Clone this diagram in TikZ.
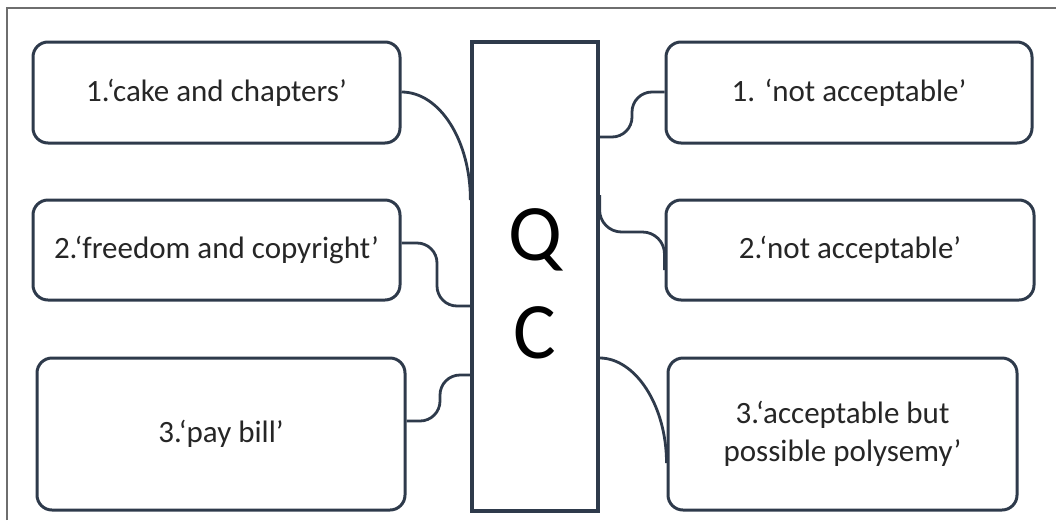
\documentclass[tikz,border=0pt]{standalone}
\usepackage{fontspec}
\setmainfont{Carlito}
\usepackage{tikz}
\usetikzlibrary{calc}
\usepackage{xcolor}
\definecolor{Slate}{HTML}{2E3A4B}
\definecolor{Ink}{HTML}{262626}
\definecolor{Frame}{HTML}{6E6E6E}
\tikzset{
  card/.style={rounded corners=15pt, draw=Slate, fill=white, line width=3pt, align=center, inner sep=4pt, text=Ink, font=\fontsize{31}{38}\selectfont},
  cardtall/.style={card, minimum height=152pt},
  qcbar/.style={draw=Slate, fill=white, line width=3.2pt, minimum width=126pt, minimum height=469pt, inner sep=0pt},
  link/.style={draw=Slate, line width=2.8pt},
  frameline/.style={draw=Frame, line width=1.6pt}
}

\begin{document}
\begin{tikzpicture}[x=1pt, y=-1pt]
\useasboundingbox (0,0) rectangle (1056,520);
\draw[frameline] (7,520) -- (7,8) -- (1056,8);
% centre bar
\node[qcbar] (qc) at (535,276.5) {};
\node[font=\fontsize{80}{80}\selectfont, text=black] (q) at (535,240) {Q};
\node[font=\fontsize{80}{80}\selectfont, text=black] (c) at (535,333) {C};
% left column
\node[card, minimum width=367pt, minimum height=101pt] (inA) at (216.5,92.5) {1.‘cake and chapters’};
\node[card, minimum width=367pt, minimum height=100pt] (inB) at (216.5,250) {2.‘freedom and copyright’};
\node[cardtall, minimum width=368pt] (inC) at (221,434) {3.‘pay bill’};
% right column
\node[card, minimum width=366pt, minimum height=101pt] (outA) at (849,92.5) {1. ‘not acceptable’};
\node[card, minimum width=368pt, minimum height=100pt] (outB) at (850,250) {2.‘not acceptable’};
\node[cardtall, minimum width=349pt] (outC) at (842.5,434) {3.‘acceptable but\\possible polysemy’};
% links
\draw[link] (inA.east |- 0,92) .. controls (440,92) and (qc.west |- 0,141) .. (qc.west |- 0,200);
\draw[link, rounded corners=20pt] (inB.east |- 0,243) -| (437,306) -- (qc.west |- 0,306);
\draw[link, rounded corners=20pt] (qc.west |- 0,375) -| (440,421) -- (inC.east |- 0,421);
\draw[link, rounded corners=20pt] (qc.east |- 0,137) -| (632,92) -- (outA.west |- 0,92);
\draw[link, rounded corners=22pt] (qc.east |- 0,195) -- (qc.east |- 0,232) -- (outB.west |- 0,232) -- (outB.west |- 0,270);
\draw[link] (qc.east |- 0,358) .. controls (635,358) and (outC.west |- 0,405) .. (outC.west |- 0,463);
\end{tikzpicture}
\end{document}
